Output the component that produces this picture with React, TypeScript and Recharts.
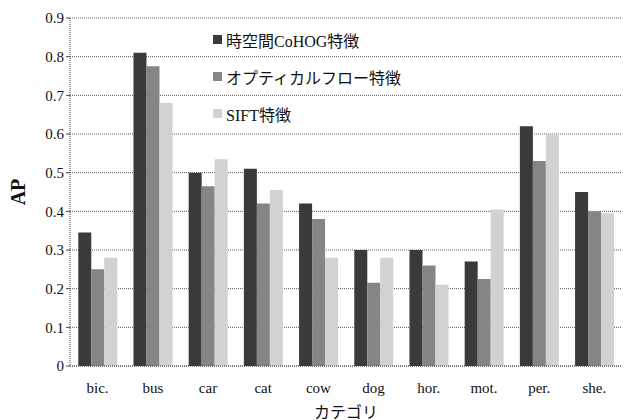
import React from 'react';
import { BarChart, Bar, XAxis, YAxis, CartesianGrid, Label } from 'recharts';

const categories = ['bic.', 'bus', 'car', 'cat', 'cow', 'dog', 'hor.', 'mot.', 'per.', 'she.'];
const cohog = [0.345, 0.81, 0.5, 0.51, 0.42, 0.3, 0.3, 0.27, 0.62, 0.45];
const opticalFlow = [0.25, 0.775, 0.465, 0.42, 0.38, 0.215, 0.26, 0.225, 0.53, 0.4];
const sift = [0.28, 0.68, 0.535, 0.455, 0.28, 0.28, 0.21, 0.405, 0.6, 0.395];
const yTicks = [0, 0.1, 0.2, 0.3, 0.4, 0.5, 0.6, 0.7, 0.8, 0.9];

const seriesNames = ['時空間CoHOG特徴', 'オプティカルフロー特徴', 'SIFT特徴'];
const seriesColors = ['#3a3a3a', '#858585', '#d2d2d2'];

const data = categories.map((name, i) => ({
  name,
  cohog: cohog[i],
  flow: opticalFlow[i],
  sift: sift[i],
}));

const FONT = '"Liberation Serif", "Noto Sans CJK JP", serif';

const LegendBox = () => (
  <div style={{ position: 'absolute', left: 213, top: 21, fontFamily: FONT, fontSize: 16, color: '#111' }}>
    {seriesNames.map((n, i) => (
      <div key={n} style={{ display: 'flex', alignItems: 'center', height: 37 }}>
        <span style={{ width: 9, height: 9, background: seriesColors[i], marginRight: 4, display: 'inline-block' }} />
        {n}
      </div>
    ))}
  </div>
);

const App: React.FC = () => {
  return (
    <div style={{ position: 'absolute', left: 0, top: 0, width: 625, height: 420, background: '#fff' }}>
      <BarChart
        width={625}
        height={420}
        data={data}
        margin={{ top: 18, right: 3, left: 0, bottom: 0 }}
        barCategoryGap="15%"
        barGap={0}
      >
        <CartesianGrid vertical={false} stroke="#555" strokeDasharray="1 1" />
        <XAxis
          dataKey="name"
          height={54}
          interval={0}
          tickLine={false}
          axisLine={{ stroke: '#444', strokeDasharray: '1 1' }}
          tick={{ fontFamily: FONT, fontSize: 15, fill: '#111' }}
          tickMargin={10}
        >
          <Label value="カテゴリ" position="insideBottom" offset={2} style={{ fontFamily: FONT, fontSize: 16, fill: '#111' }} />
        </XAxis>
        <YAxis
          width={70}
          domain={[0, 0.9]}
          ticks={yTicks}
          interval={0}
          tickFormatter={(v: number) => (v === 0 ? '0' : v.toFixed(1))}
          tickLine={{ stroke: '#444' }}
          tickSize={4}
          axisLine={{ stroke: '#444', strokeDasharray: '1 1' }}
          tick={{ fontFamily: FONT, fontSize: 15, fill: '#111' }}
        >
          <Label
            value="AP"
            angle={-90}
            position="insideLeft"
            offset={18}
            style={{ fontFamily: FONT, fontSize: 20, fontWeight: 'bold', fill: '#111', textAnchor: 'middle' }}
          />
        </YAxis>
        <Bar dataKey="cohog" name={seriesNames[0]} fill={seriesColors[0]} isAnimationActive={false} />
        <Bar dataKey="flow" name={seriesNames[1]} fill={seriesColors[1]} isAnimationActive={false} />
        <Bar dataKey="sift" name={seriesNames[2]} fill={seriesColors[2]} isAnimationActive={false} />
      </BarChart>
      <LegendBox />
    </div>
  );
};

export default App;
